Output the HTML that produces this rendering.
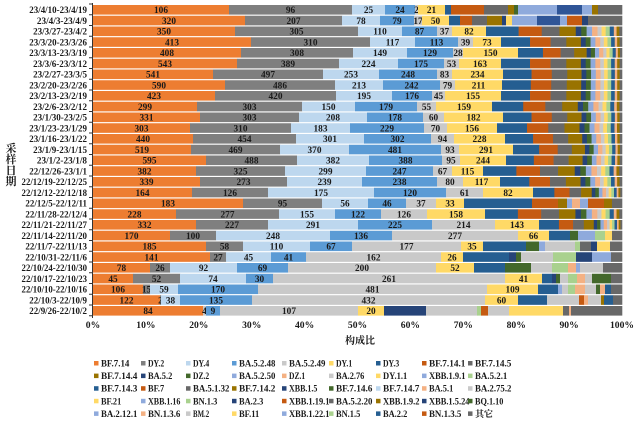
<!DOCTYPE html>
<html><head><meta charset="utf-8"><style>
html,body{margin:0;padding:0;background:#fff;width:640px;height:443px;overflow:hidden}
svg text{font-family:"Liberation Serif","Noto Serif CJK SC",serif;font-weight:bold;fill:#1a1a1a}
</style></head><body>
<svg id="s" width="640" height="443" xmlns="http://www.w3.org/2000/svg"></svg>
<script>
var C={o:'#ED7D31',g:'#7F7F7F',lb:'#BDD7EE',b:'#5B9BD5',lg:'#C9C9C9',y:'#FFD966',db:'#255E91',br:'#C55A11',g2:'#686868',ol:'#997300',nv:'#264478',gr:'#43682B',lgr:'#A9D18E',sa:'#F4B183',pb:'#8FAADC',db2:'#2F5597'};
var names=["23/4/10-23/4/19","23/4/3-23/4/9","23/3/27-23/4/2","23/3/20-23/3/26","23/3/13-23/3/19","23/3/6-23/3/12","23/2/27-23/3/5","23/2/20-23/2/26","23/2/13-23/2/19","23/2/6-23/2/12","23/1/30-23/2/5","23/1/23-23/1/29","23/1/16-23/1/22","23/1/9-23/1/15","23/1/2-23/1/8","22/12/26-23/1/1","22/12/19-22/12/25","22/12/12-22/12/18","22/12/5-22/12/11","22/11/28-22/12/4","22/11/21-22/11/27","22/11/14-22/11/20","22/11/7-22/11/13","22/10/31-22/11/6","22/10/24-22/10/30","22/10/17-22/10/23","22/10/10-22/10/16","22/10/3-22/10/9","22/9/26-22/10/2"];
var L=[[106,96,25,24,2,21],[320,207,78,79,17,50],[350,305,110,87,37,82],[413,310,117,113,39,73],[408,308,149,129,28,150],[543,389,224,175,53,163],[541,497,253,248,83,234],[590,486,213,242,79,211],[423,420,195,176,45,155],[299,303,150,179,55,159],[331,303,208,178,60,182],[303,310,183,229,70,156],[440,454,301,302,94,228],[519,469,370,481,93,291],[595,488,382,388,95,244],[382,325,299,247,67,115],[339,273,239,238,80,117],[164,126,175,120,61,82],[183,95,56,46,37,33],[228,277,155,122,126,158],[332,227,291,225,214,143],[170,100,248,136,277,66],[185,58,110,67,177,35],[141,27,45,41,162,26],[78,26,92,69,200,52],[45,52,74,30,261,41],[106,15,59,170,481,109],[122,2,38,135,432,60],[84,4,9,107,20]];
var E=[[229,352,385,415,418,445],[245,342,380,414,422,449],[235,358,402,437,452,486],[251,370,415,458,473,501],[241,353,407,453,463,518],[237,339,398,444,459,501],[213,323,379,437,452,503],[225,335,383,440,455,502],[215,336,392,432,445,501],[197,302,355,417,436,492],[200,299,367,423,444,503],[190,291,350,424,447,497],[193,296,364,431,454,505],[191,280,349,441,459,513],[206,297,369,442,460,506],[196,285,366,433,452,483],[200,287,362,437,463,500],[192,268,374,446,483,533],[243,322,368,406,436,464],[176,279,335,381,427,485],[196,268,358,432,495,539],[170,216,330,392,518,549],[206,243,310,352,461,483],[210,226,271,306,441,463],[150,170,237,288,436,474],[133,180,246,273,505,542],[143,150,178,258,487,538],[160,161,180,252,485,518]];
var base=['o','g','lb','b','lg','y'];
var T={
0:[[451,'db'],[484,'br'],[508,'g2'],[514,'ol'],[518,'gr'],[557,'pb'],[582,'db2'],[592,'pb'],[598,'ol'],[622,'g2']],
1:[[460,'db'],[472,'br'],[487,'g2'],[502,'ol'],[506,'nv'],[512,'y'],[537,'pb'],[560,'db2'],[567,'pb'],[582,'br'],[588,'nv'],[622,'g2']],
18:[[532,'db'],[558,'br'],[567,'ol'],[572,'pb'],[580,'sa'],[588,'pb'],[604,'br'],[612,'ol'],[622,'g2']],
21:[[570,'db'],[578,'gr'],[595,'pb'],[605,'lgr'],[612,'y'],[622,'g2']],
22:[[526,'db'],[539,'gr'],[545,'pb'],[575,'lg'],[580,'lgr'],[591,'g2'],[597,'nv'],[610,'y'],[622,'g2']],
23:[[509,'db'],[516,'nv'],[521,'gr'],[553,'lg'],[576,'lgr'],[592,'nv'],[611,'pb'],[622,'g2']],
24:[[505,'db'],[531,'gr'],[552,'lg'],[568,'lgr'],[576,'sa'],[580,'pb'],[603,'lg'],[622,'g2']],
25:[[552,'db'],[556,'nv'],[560,'gr'],[568,'lg'],[577,'lgr'],[585,'sa'],[592,'lg'],[611,'gr'],[622,'g2']],
26:[[558,'db'],[562,'pb'],[568,'lg'],[575,'lgr'],[585,'sa'],[596,'lg'],[600,'gr'],[605,'sa'],[611,'db'],[622,'g2']],
27:[[547,'db'],[579,'lg'],[584,'br'],[588,'sa'],[601,'lg'],[604,'ol'],[613,'db'],[622,'g2']],
28:[[426,'nv'],[477,'lg'],[481,'lgr'],[488,'br'],[509,'lg'],[563,'y'],[569,'g2'],[571,'sa'],[622,'g2']]
};
var pat=['db','br','g2','ol','nv','gr','pb','sa','lg','y','lgr','db','sa','ol','g2'];
var s='';
for(var i=0;i<29;i++){
 var y=5+i*10.75,h=9.6;
 var tl=names[i].length*3.85;
 s+='<text x="87" y="'+(y+8)+'" font-size="9" text-anchor="end" textLength="'+tl+'" lengthAdjust="spacingAndGlyphs">'+names[i]+'</text>';
 var segs=[];var x0=93;
 if(i<28){for(var k=0;k<6;k++)segs.push([E[i][k],base[k],L[i][k]]);}
 else{segs=[[203,'o',84],[206,'lg',4],[220,'b',9],[358,'lg',107],[384,'y',20]];}
 var last=segs[segs.length-1][0];
 if(T[i]){T[i].forEach(function(t){segs.push([t[0],t[1]])});}
 else{
  var rem=622-last;var cur=last;
  var parts=[0.24,0.17,0.13,0.12,0.04,0.04,0.04,0.04,0.03,0.03,0.03,0.03,0.02,0.02];
  for(var p=0;p<parts.length;p++){cur+=rem*parts[p];segs.push([cur,pat[p]]);}
  segs.push([622,'g2']);
 }
 segs.forEach(function(sg){
  var w=sg[0]-x0; if(w>0){
  s+='<rect x="'+x0+'" y="'+y+'" width="'+(w+0.3)+'" height="'+h+'" fill="'+C[sg[1]]+'"/>';
  if(sg[2]!==undefined)s+='<text x="'+(x0+w/2)+'" y="'+(y+8.2)+'" font-size="9.3" text-anchor="middle">'+sg[2]+'</text>';}
  x0=sg[0];
 });
}
s+='<line x1="92.5" y1="3" x2="92.5" y2="318" stroke="#333" stroke-width="1"/>';
for(var i=0;i<=29;i++){var yy=4+i*10.75;s+='<line x1="89" y1="'+yy+'" x2="92.5" y2="'+yy+'" stroke="#333"/>';}
for(var k=0;k<=10;k++){var xx=93+k*52.9;s+='<text x="'+xx+'" y="328" font-size="9.6" text-anchor="middle">'+(k*10)+'%</text>';}
s+='<text x="360" y="344" font-size="10" text-anchor="middle" font-family="Noto Serif CJK SC,serif">构成比</text>';
var tt='采样日期';for(var k=0;k<4;k++)s+='<text x="11" y="'+(152+k*11)+'" font-size="11" text-anchor="middle">'+tt[k]+'</text>';
var leg=[['BF.7.14','o'],['DY.2','g'],['DY.4','lb'],['BA.5.2.48','b'],['BA.5.2.49','lg'],['DY.1','y'],['DY.3','db'],['BF.7.14.1','br'],['BF.7.14.5','g2'],
['BF.7.14.4','ol'],['BA.5.2','nv'],['DZ.2','gr'],['BA.5.2.50','pb'],['DZ.1','sa'],['BA.2.76','lg'],['DY.1.1','y'],['XBB.1.9.1','pb'],['BA.5.2.1','lgr'],
['BF.7.14.3','db'],['BF.7','br'],['BA.5.1.32','g2'],['BF.7.14.2','ol'],['XBB.1.5','nv'],['BF.7.14.6','gr'],['BF.7.14.7','lb'],['BA.5.1','sa'],['BA.2.75.2','lg'],
['BF.21','y'],['XBB.1.16','pb'],['BN.1.3','lgr'],['BA.2.3','nv'],['XBB.1.19.1','br'],['BA.5.2.20','g2'],['XBB.1.9.2','ol'],['XBB.1.5.24','nv'],['BQ.1.10','gr'],
['BA.2.12.1','pb'],['BN.1.3.6','sa'],['BM.2','lg'],['BF.11','y'],['XBB.1.22.1','pb'],['BN.1.5','lgr'],['BA.2.2','db'],['BN.1.3.5','br'],['其它','g2']];
var cx=[94,141,186,232,282,329,376,422,468];
leg.forEach(function(l,j){var r=Math.floor(j/9),c=j%9;var yy=366+r*12.6;
 s+='<rect x="'+cx[c]+'" y="'+(yy-5)+'" width="4.5" height="4.5" fill="'+C[l[1]]+'"/>';
 var tl=l[0]=='其它'?'':' textLength="'+(l[0].length*4.05)+'" lengthAdjust="spacingAndGlyphs"';
 s+='<text x="'+(cx[c]+7)+'" y="'+(yy+0.5)+'" font-size="9"'+tl+'>'+l[0]+'</text>';});
document.getElementById('s').innerHTML=s;
</script>
</body></html>
